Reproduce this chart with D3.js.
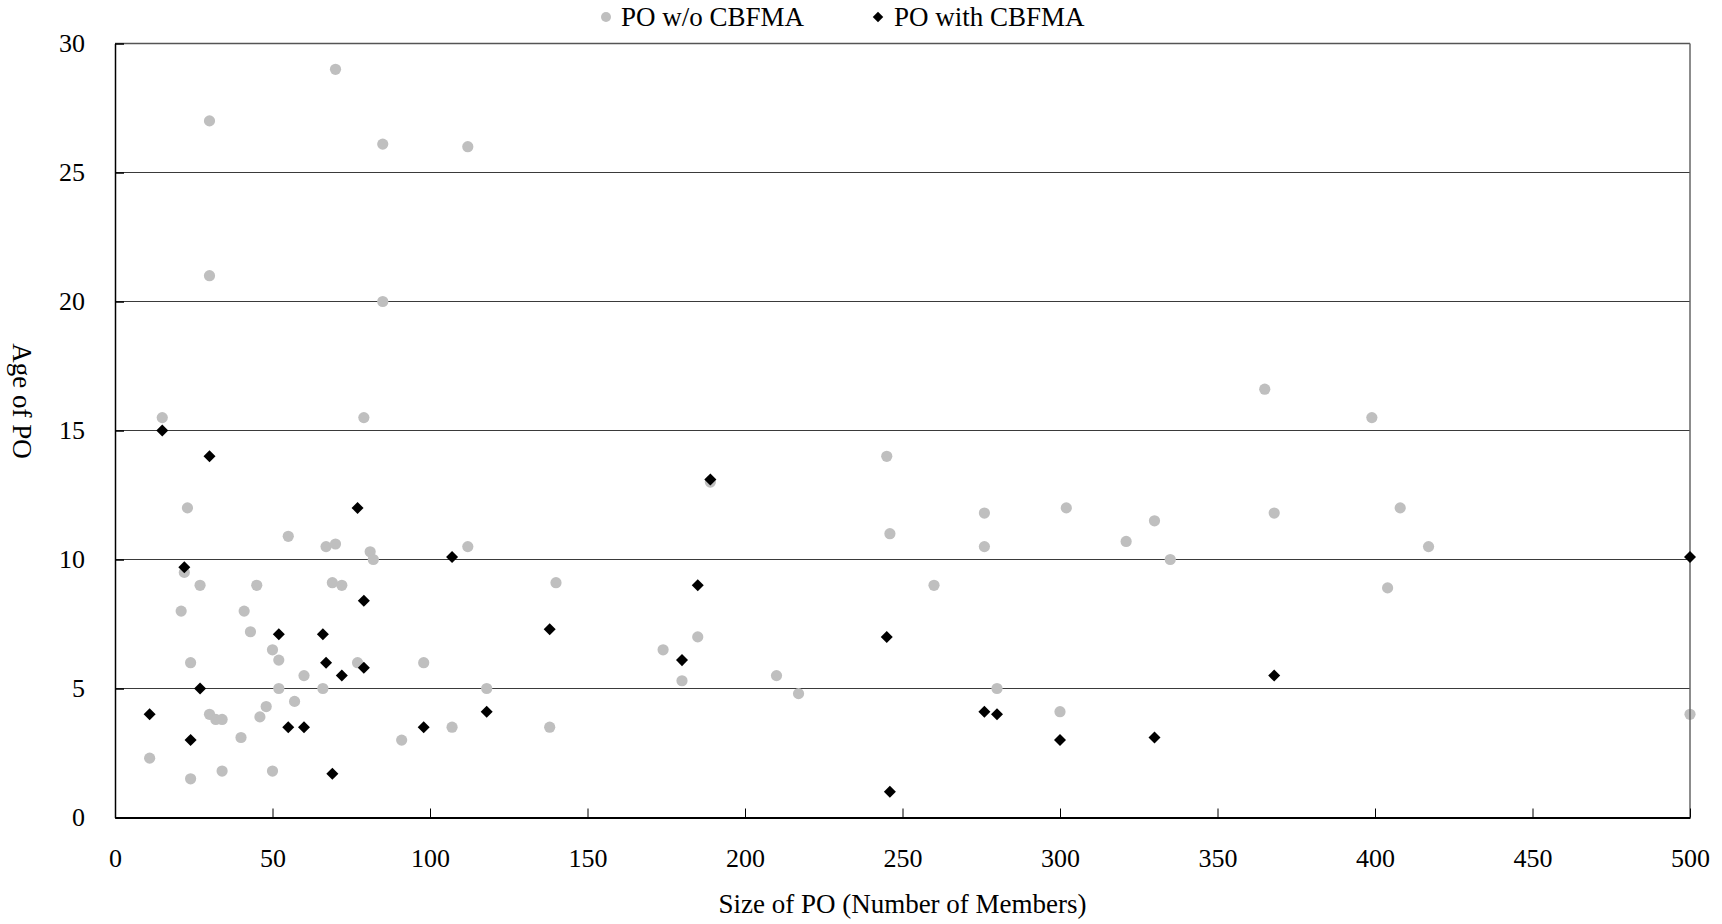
<!DOCTYPE html>
<html>
<head>
<meta charset="utf-8">
<script src="https://cdn.jsdelivr.net/npm/d3@7"></script>
<style>
  body { margin: 0; background: #fff; }
  text { font-family: "Liberation Serif", "Times New Roman", serif; fill: #000; }
</style>
</head>
<body>
<div id="container"></div>
<script>
/* CONSTANTS AND GLOBALS */
const width = 1722,
  height = 924,
  margin = { top: 43.5, bottom: 106.5, left: 115, right: 32 }

// DATA: [size of PO, age of PO]
const withoutCBFMA = [
  [11, 2.3], [15, 15.5], [21, 8], [22, 9.5], [23, 12], [24, 6], [24, 1.5], [27, 9],
  [30, 27], [30, 21], [30, 4], [32, 3.8], [34, 3.8], [34, 1.8], [40, 3.1], [41, 8],
  [43, 7.2], [45, 9], [46, 3.9], [48, 4.3], [50, 6.5], [50, 1.8], [52, 6.1], [52, 5],
  [55, 10.9], [57, 4.5], [60, 5.5], [66, 5], [67, 10.5], [69, 9.1], [70, 29], [70, 10.6],
  [72, 9], [77, 6], [79, 15.5], [81, 10.3], [82, 10], [85, 26.1], [85, 20], [91, 3],
  [98, 6], [107, 3.5], [112, 26], [112, 10.5], [118, 5], [138, 3.5], [140, 9.1],
  [174, 6.5], [180, 5.3], [185, 7], [189, 13], [210, 5.5], [217, 4.8], [245, 14],
  [246, 11], [260, 9], [276, 11.8], [276, 10.5], [280, 5], [300, 4.1], [302, 12],
  [321, 10.7], [330, 11.5], [335, 10], [365, 16.6], [368, 11.8], [399, 15.5],
  [404, 8.9], [408, 12], [417, 10.5], [500, 4]
];

const withCBFMA = [
  [11, 4], [15, 15], [22, 9.7], [24, 3], [27, 5], [30, 14], [52, 7.1], [55, 3.5],
  [60, 3.5], [66, 7.1], [67, 6], [69, 1.7], [72, 5.5], [77, 12], [79, 8.4], [79, 5.8],
  [98, 3.5], [107, 10.1], [118, 4.1], [138, 7.3], [180, 6.1], [185, 9], [189, 13.1],
  [245, 7], [246, 1], [276, 4.1], [280, 4], [300, 3], [330, 3.1], [368, 5.5], [500, 10.1]
];

const seriesNames = ["PO w/o CBFMA", "PO with CBFMA"];
const xTicks = [0, 50, 100, 150, 200, 250, 300, 350, 400, 450, 500];
const yTicks = [0, 5, 10, 15, 20, 25, 30];

// SCALES
const xScale = d3.scaleLinear()
  .domain([0, 500])
  .range([margin.left, width - margin.right])

const yScale = d3.scaleLinear()
  .domain([0, 30])
  .range([height - margin.bottom, margin.top])

// CREATE SVG ELEMENT
const svg = d3.select("#container")
  .append("svg")
  .attr("width", width)
  .attr("height", height)

// GRIDLINES
svg.append("g")
  .selectAll("line")
  .data(yTicks.filter(d => d > 0 && d < 30))
  .join("line")
  .attr("x1", xScale(0))
  .attr("x2", xScale(500))
  .attr("y1", d => yScale(d))
  .attr("y2", d => yScale(d))
  .attr("stroke", "#3a3a3a")
  .attr("stroke-width", 1)

// top border
svg.append("line")
  .attr("x1", xScale(0)).attr("x2", xScale(500))
  .attr("y1", yScale(30)).attr("y2", yScale(30))
  .attr("stroke", "#555").attr("stroke-width", 1.5)

// GRAY POINTS
svg.append("g")
  .selectAll("circle")
  .data(withoutCBFMA)
  .join("circle")
  .attr("cx", d => xScale(d[0]))
  .attr("cy", d => yScale(d[1]))
  .attr("r", 5.6)
  .attr("fill", "#bfbfbf")

// right border
svg.append("line")
  .attr("x1", xScale(500)).attr("x2", xScale(500))
  .attr("y1", yScale(30)).attr("y2", yScale(0))
  .attr("stroke", "#666").attr("stroke-width", 1.5)

// BUILD AND CALL AXES
const xAxis = d3.axisBottom(xScale)
  .tickValues(xTicks)
  .tickSizeInner(-9)
  .tickSizeOuter(0)
  .tickPadding(31)

const yAxis = d3.axisLeft(yScale)
  .tickValues(yTicks)
  .tickSizeInner(-9)
  .tickSizeOuter(0)
  .tickPadding(30)

const xAxisGroup = svg.append("g")
  .attr("class", "xAxis")
  .attr("transform", `translate(0, ${yScale(0)})`)
  .call(xAxis)

const yAxisGroup = svg.append("g")
  .attr("class", "yAxis")
  .attr("transform", `translate(${xScale(0)}, 0)`)
  .call(yAxis)

xAxisGroup.select(".domain").attr("stroke", "#000").attr("stroke-width", 2.2)
yAxisGroup.select(".domain").attr("stroke", "#000").attr("stroke-width", 1.5)
xAxisGroup.selectAll(".tick line").attr("stroke", "#000").attr("stroke-width", 1)
yAxisGroup.selectAll(".tick line").attr("stroke", "#000").attr("stroke-width", 1.5)
svg.selectAll(".tick text")
  .attr("font-family", "Liberation Serif")
  .attr("font-size", 26)
  .attr("fill", "#000")

// BLACK DIAMONDS
const diamond = d3.symbol().type(d3.symbolDiamond2).size(92)

svg.append("g")
  .selectAll("path")
  .data(withCBFMA)
  .join("path")
  .attr("transform", d => `translate(${xScale(d[0])}, ${yScale(d[1])})`)
  .attr("d", diamond)
  .attr("fill", "#000")

// AXIS TITLES
svg.append("text")
  .attr("x", (xScale(0) + xScale(500)) / 2)
  .attr("y", 913)
  .attr("text-anchor", "middle")
  .attr("font-size", 27)
  .text("Size of PO (Number of Members)")

svg.append("text")
  .attr("transform", "translate(13, 401) rotate(90)")
  .attr("text-anchor", "middle")
  .attr("font-size", 27)
  .text("Age of PO")

// LEGEND
const legend = svg.append("g")
  .attr("transform", "translate(0, 17)")

legend.append("circle")
  .attr("cx", 606).attr("cy", 0).attr("r", 5)
  .attr("fill", "#bfbfbf")

legend.append("text")
  .attr("x", 621).attr("y", 9)
  .attr("font-size", 27)
  .text(seriesNames[0])

legend.append("path")
  .attr("transform", "translate(878, 0)")
  .attr("d", d3.symbol().type(d3.symbolDiamond2).size(70))
  .attr("fill", "#000")

legend.append("text")
  .attr("x", 894).attr("y", 9)
  .attr("font-size", 27)
  .text(seriesNames[1])
</script>
</body>
</html>
